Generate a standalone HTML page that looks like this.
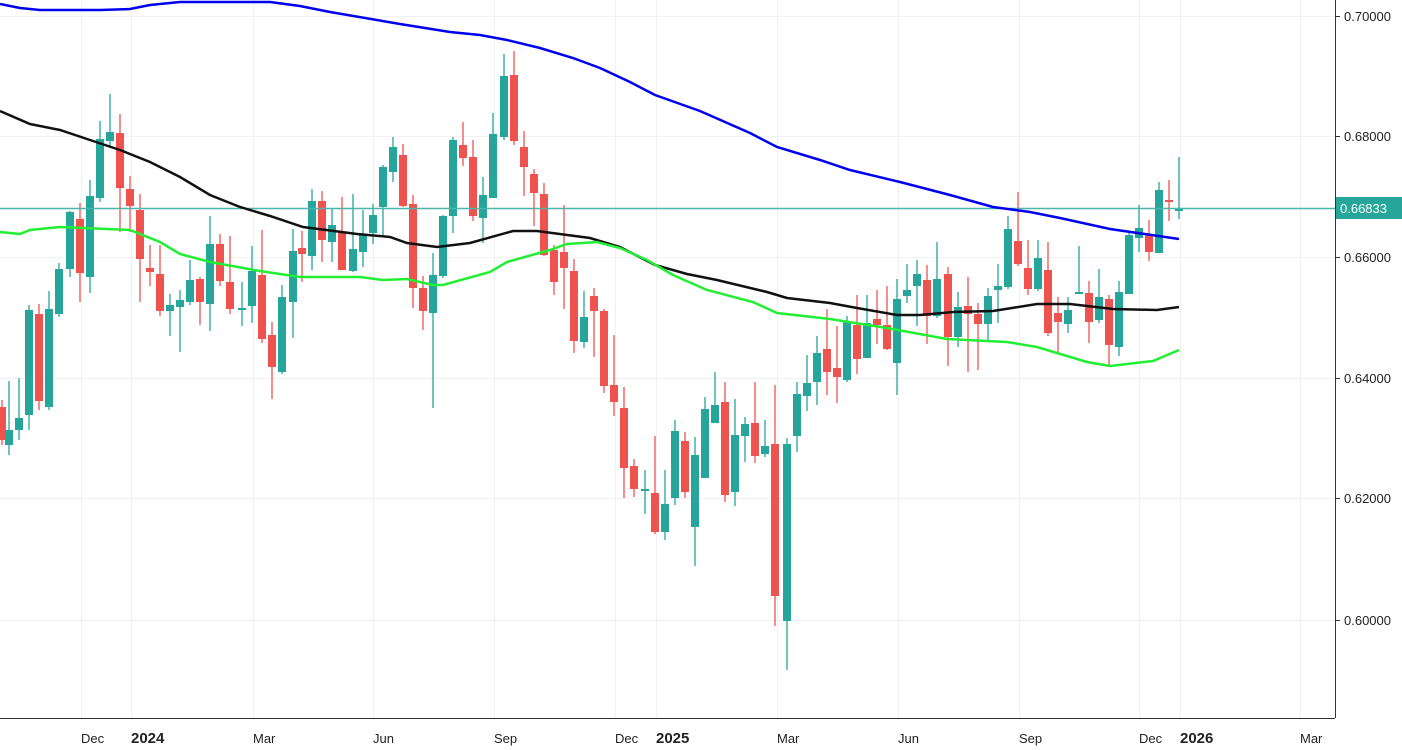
<!DOCTYPE html>
<html><head><meta charset="utf-8"><style>
html,body{margin:0;padding:0;background:#fff;width:1402px;height:750px;overflow:hidden}
svg{display:block;font-family:"Liberation Sans",sans-serif}
</style></head><body>
<svg id="c" width="1402" height="750" xmlns="http://www.w3.org/2000/svg">
<rect width="1402" height="750" fill="#fff"/>
<g id="grid" stroke="#f1f1f1" stroke-width="1"></g>
<g id="candles"></g>
<line x1="0" y1="208.5" x2="1335" y2="208.5" stroke="#4db6ac" stroke-width="1.5"/>
<polyline id="blue" fill="none" stroke="#0000ee" stroke-width="2.5"/>
<polyline id="black" fill="none" stroke="#111" stroke-width="2.5"/>
<polyline id="green" fill="none" stroke="#22ee33" stroke-width="2.5"/>
<line x1="1335.5" y1="0" x2="1335.5" y2="718" stroke="#333" stroke-width="1"/>
<line x1="0" y1="718.5" x2="1335" y2="718.5" stroke="#333" stroke-width="1"/>
<g id="ylab" font-size="13" fill="#222"></g>
<g id="xlab" font-size="13" fill="#222"></g>
<rect x="1336" y="197" width="66" height="22" fill="#26a69a"/>
<text x="1340" y="213" font-size="13" fill="#fff">0.66833</text>
</svg>
<script>
const NS="http://www.w3.org/2000/svg";
function el(p,t,a,txt){const e=document.createElementNS(NS,t);for(const k in a)e.setAttribute(k,a[k]);if(txt)e.textContent=txt;p.appendChild(e);return e;}
const grid=document.getElementById('grid');
[16,136,257,378,498,620].forEach(y=>el(grid,'line',{x1:0,x2:1335,y1:y+.5,y2:y+.5}));
[81,131,253,373,494,615,656,777,898,1019,1139,1180,1300].forEach(x=>el(grid,'line',{x1:x+.5,x2:x+.5,y1:0,y2:718}));
const yl=document.getElementById('ylab');
[["0.70000",16],["0.68000",136],["0.66000",257],["0.64000",378],["0.62000",498],["0.60000",620]].forEach(([t,y])=>{el(yl,'text',{x:1344,y:y+5},t);el(yl,'line',{x1:1335,x2:1340,y1:y+.5,y2:y+.5,stroke:'#333'});});
const xl=document.getElementById('xlab');
[["Dec",81,0],["2024",131,1],["Mar",253,0],["Jun",373,0],["Sep",494,0],["Dec",615,0],["2025",656,1],["Mar",777,0],["Jun",898,0],["Sep",1019,0],["Dec",1139,0],["2026",1180,1],["Mar",1300,0]].forEach(([t,x,b])=>{const e=el(xl,'text',{x:x,y:743,'font-size':b?15:13},t);if(b)e.setAttribute('font-weight','bold');});
const D=[
[2,407,440,400,445,'r'],[9,430,445,381,455,'g'],[19,418,430,378,440,'g'],
[29,310,415,305,430,'g'],[39,314,401,304,410,'r'],[49,309,407,291,410,'g'],[59,269,314,263,317,'g'],[70,212,269,211,277,'g'],[80,219,273,203,302,'r'],[90,196,277,180,293,'g'],[100,139,198,121,202,'g'],[110,132,141,94,148,'g'],[120,133,188,114,232,'r'],[130,189,206,176,232,'r'],[140,210,259,194,302,'r'],[150,268,272,245,286,'r'],[160,274,311,245,316,'r'],[170,305,311,294,336,'g'],[180,300,307,290,352,'g'],[190,280,302,260,305,'g'],[200,279,302,277,325,'r'],[210,244,304,216,331,'g'],[220,244,281,234,286,'r'],[230,282,309,236,314,'r'],[242,308,310,282,326,'g'],[252,271,306,246,323,'g'],[262,275,339,230,343,'r'],[272,335,367,322,399,'r'],[282,297,372,285,374,'g'],
[293,251,302,229,338,'g'],[302,248,254,231,282,'r'],[312,201,256,189,270,'g'],[322,201,240,191,262,'r'],[332,225,242,208,262,'g'],[342,233,270,197,270,'r'],[353,249,271,194,272,'g'],[363,234,252,210,267,'g'],[373,215,233,204,244,'g'],[383,167,207,165,236,'g'],[393,147,172,137,182,'g'],[403,155,206,144,207,'r'],[413,204,288,195,308,'r'],[423,288,311,276,330,'r'],[433,275,313,253,408,'g'],[443,216,276,215,278,'g'],[453,140,216,137,233,'g'],[463,145,158,122,166,'r'],[473,157,216,140,221,'r'],[483,195,218,177,243,'g'],[493,134,198,113,198,'g'],[504,76,137,54,140,'g'],[514,75,141,51,145,'r'],[524,147,167,131,196,'r'],[534,174,193,169,226,'r'],[544,194,255,183,256,'r'],[554,250,282,245,295,'r'],[564,252,268,205,309,'r'],[574,271,341,259,353,'r'],[584,317,342,291,348,'g'],[594,296,311,288,357,'r'],[604,311,386,309,393,'r'],[614,385,402,335,416,'r'],
[624,408,468,387,498,'r'],[634,466,489,459,497,'r'],[645,489,491,470,514,'g'],[655,493,532,436,534,'r'],[665,504,532,470,540,'g'],[675,431,498,420,505,'g'],[685,441,492,432,498,'r'],[695,455,527,437,566,'g'],[705,409,478,397,478,'g'],[715,405,423,372,423,'g'],[725,402,495,382,502,'r'],[735,435,492,399,506,'g'],[745,424,436,417,462,'g'],[755,423,456,382,463,'r'],[765,446,454,420,457,'g'],[775,444,596,385,626,'r'],[787,444,621,438,670,'g'],[797,394,436,382,452,'g'],[807,383,396,355,411,'g'],[817,353,382,336,405,'g'],[827,349,372,309,395,'r'],
[837,368,377,326,403,'r'],[847,322,380,316,382,'g'],[857,325,359,295,374,'r'],[867,323,358,295,358,'g'],[877,319,325,290,344,'r'],[887,325,349,286,350,'r'],[897,299,363,279,395,'g'],[907,290,296,264,303,'g'],[917,274,286,260,326,'g'],[927,280,316,265,344,'r'],[937,279,316,242,318,'g'],[948,274,337,267,366,'r'],[958,307,337,292,347,'g'],[968,306,314,277,372,'r'],[978,314,324,303,370,'r'],[988,296,324,288,341,'g'],[998,286,290,264,323,'g'],[1008,229,287,216,289,'g'],[1018,241,264,192,266,'r'],[1028,268,289,240,295,'r'],[1038,258,289,240,291,'g'],[1048,270,333,242,336,'r'],[1058,313,322,297,353,'r'],[1068,310,324,297,333,'g'],[1079,292,294,246,294,'g'],[1089,293,322,281,343,'r'],[1099,297,320,269,323,'g'],[1109,299,345,295,365,'r'],[1119,292,347,281,356,'g'],[1129,235,294,231,294,'g'],[1139,228,238,205,252,'g'],[1149,234,252,220,261,'r'],[1159,190,253,182,253,'g'],[1169,200,202,180,221,'r'],[1179,209,211,157,219,'g']];
const cg=document.getElementById('candles');
D.forEach(([x,t,b,wt,wb,c])=>{const col=c=='g'?'#26a69a':'#ef5350';
el(cg,'line',{x1:x,x2:x,y1:wt,y2:wb,stroke:col,'stroke-width':1.3});
el(cg,'rect',{x:x-4,y:t,width:8,height:Math.max(b-t,1.5),fill:col});});
const pts=a=>a.map(p=>p.join(',')).join(' ');
document.getElementById('blue').setAttribute('points',pts([[0,4],[20,8],[40,10],[100,10],[130,9],[150,5],[180,2],[270,2],[300,6],[330,12],[400,24],[450,32],[480,35],[507,40],[540,48],[573,58],[600,68],[630,82],[655,95],[700,111],[750,133],[777,147],[820,160],[850,170],[900,182],[950,195],[993,207],[1030,212],[1060,218],[1110,229],[1179,239]]));
document.getElementById('black').setAttribute('points',pts([[0,111],[30,124],[60,130],[90,140],[120,150],[150,162],[180,177],[210,195],[240,207],[270,216],[303,227],[357,234],[390,237],[407,243],[437,247],[470,243],[513,231],[537,231],[590,238],[620,247],[655,265],[687,274],[717,280],[767,292],[787,298],[830,303],[857,308],[897,315],[920,315],[953,312],[993,311],[1037,304],[1070,304],[1113,309],[1157,310],[1179,307]]));
document.getElementById('green').setAttribute('points',pts([[0,232],[20,234],[30,230],[60,227],[130,230],[160,242],[180,254],[210,262],[260,271],[300,277],[360,277],[383,280],[407,279],[433,285],[443,285],[490,272],[507,262],[550,250],[567,244],[597,242],[620,248],[647,260],[673,275],[707,290],[753,302],[777,313],[830,319],[887,328],[947,339],[1007,342],[1037,347],[1087,362],[1110,366],[1153,361],[1179,350]]));
</script>
</body></html>
